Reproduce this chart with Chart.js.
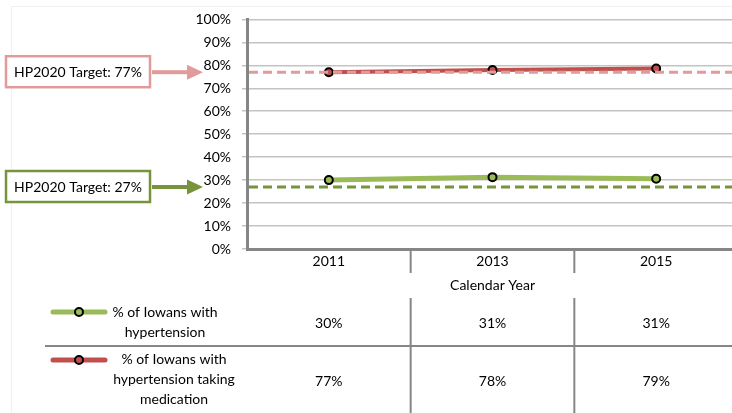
<!DOCTYPE html>
<html>
<head>
<meta charset="utf-8">
<script src="https://cdn.jsdelivr.net/npm/chart.js@4"></script>
<style>
  html, body { margin: 0; padding: 0; background: #fff; }
  #wrap { width: 732px; height: 413px; overflow: hidden; position: relative; }
  canvas { display: block; }
</style>
</head>
<body>
<div id="wrap"><canvas id="bpChart" width="744" height="413"></canvas></div>
<script>
// Data
const years = ['2011', '2013', '2015'];
const hypertension = [30, 31.3, 30.6];
const onMedication = [77, 78, 78.6];
const targetHypertension = 27;
const targetMedication = 77;
const seriesNames = [
    ['% of Iowans with', 'hypertension'],
    ['% of Iowans with', 'hypertension taking', 'medication']
];
const xAxisTitle = 'Calendar Year';

const GREEN = '#9BBB59';
const GREEN_DARK = '#77933C';
const RED = '#C0504D';
const PINK = '#E19B9A';
const AXIS = '#868686';
const TEXT = '#000000';
const FONT = 'Lato, "Open Sans", sans-serif';

function pct(v) { return Math.round(v) + '%'; }

// Target lines, callout boxes and the data table under the chart
const overlayPlugin = {
    id: 'overlay',
    beforeDraw(chart) {
        const ctx = chart.ctx;
        ctx.save();
        ctx.strokeStyle = '#f1f1f1';
        ctx.lineWidth = 1;
        ctx.strokeRect(11.5, 6.5, 760, 420);
        ctx.restore();
    },
    afterDatasetsDraw(chart) {
        const ctx = chart.ctx;
        const area = chart.chartArea;
        const y = chart.scales.y;
        ctx.save();
        ctx.lineWidth = 3;
        ctx.setLineDash([9, 5]);
        [[targetMedication, PINK], [targetHypertension, GREEN_DARK]].forEach(([t, c]) => {
            const py = y.getPixelForValue(t);
            ctx.strokeStyle = c;
            ctx.beginPath();
            ctx.moveTo(area.left + 2, py);
            ctx.lineTo(chart.width, py);
            ctx.stroke();
        });
        ctx.restore();
    },
    afterDraw(chart) {
        const ctx = chart.ctx;
        const area = chart.chartArea;
        const x = chart.scales.x;
        const y = chart.scales.y;
        ctx.save();

        // callouts
        [[targetMedication, PINK], [targetHypertension, GREEN_DARK]].forEach(([t, c]) => {
            const py = y.getPixelForValue(t);
            ctx.strokeStyle = c;
            ctx.lineWidth = 2.5;
            ctx.fillStyle = '#fff';
            ctx.fillRect(6, py - 16, 144, 31);
            ctx.strokeRect(6, py - 16, 144, 31);
            ctx.fillStyle = TEXT;
            ctx.font = '14px ' + FONT;
            ctx.textAlign = 'center';
            ctx.textBaseline = 'middle';
            ctx.fillText('HP2020 Target: ' + t + '%', 78, py);
            ctx.fillStyle = c;
            ctx.fillRect(152, py - 2, 36, 4);
            ctx.beginPath();
            ctx.moveTo(187, py - 7.5);
            ctx.lineTo(203, py);
            ctx.lineTo(187, py + 7.5);
            ctx.closePath();
            ctx.fill();
        });

        // category boundaries
        const bounds = [];
        for (let i = 0; i < years.length - 1; i++) {
            bounds.push((x.getPixelForTick(i) + x.getPixelForTick(i + 1)) / 2);
        }
        bounds.push(area.right);

        ctx.strokeStyle = AXIS;
        ctx.lineWidth = 2;
        bounds.forEach(bx => {
            ctx.beginPath();
            ctx.moveTo(bx, area.bottom);
            ctx.lineTo(bx, 273);
            ctx.moveTo(bx, 298);
            ctx.lineTo(bx, 413);
            ctx.stroke();
        });
        ctx.beginPath();
        ctx.moveTo(45, 346);
        ctx.lineTo(chart.width, 346);
        ctx.stroke();

        // table rows
        const rows = [
            { values: hypertension, color: GREEN, name: seriesNames[0], keyY: 312, textX: 165, textY: 312, valY: 323 },
            { values: onMedication, color: RED, name: seriesNames[1], keyY: 360, textX: 174, textY: 359.5, valY: 381 }
        ];
        rows.forEach(r => {
            ctx.strokeStyle = r.color;
            ctx.lineWidth = 5;
            ctx.lineCap = 'round';
            ctx.beginPath();
            ctx.moveTo(53, r.keyY);
            ctx.lineTo(105, r.keyY);
            ctx.stroke();
            ctx.lineCap = 'butt';
            ctx.beginPath();
            ctx.arc(79, r.keyY, 4, 0, Math.PI * 2);
            ctx.fillStyle = r.color;
            ctx.fill();
            ctx.strokeStyle = '#000';
            ctx.lineWidth = 2;
            ctx.stroke();

            ctx.fillStyle = TEXT;
            ctx.font = '14px ' + FONT;
            ctx.textAlign = 'center';
            ctx.textBaseline = 'middle';
            r.name.forEach((line, i) => ctx.fillText(line, r.textX, r.textY + i * 20));
            r.values.forEach((v, i) => ctx.fillText(pct(v), x.getPixelForTick(i), r.valY));
        });
        ctx.restore();
    }
};

function renderChart() {
    const ctx = document.getElementById('bpChart').getContext('2d');
    const point = (c) => ({
        borderColor: c,
        pointBackgroundColor: c,
        pointBorderColor: '#000',
        pointBorderWidth: 2,
        pointRadius: 4,
        tension: 0,
        fill: false
    });
    new Chart(ctx, {
        type: 'line',
        data: {
            labels: years,
            datasets: [
                Object.assign({ label: seriesNames[0].join(' '), data: hypertension, borderWidth: 5 }, point(GREEN)),
                Object.assign({ label: seriesNames[1].join(' '), data: onMedication, borderWidth: 4 }, point(RED))
            ]
        },
        options: {
            responsive: false,
            animation: false,
            layout: { padding: { top: 13, right: 2, bottom: 119, left: 0 } },
            plugins: { legend: { display: false }, tooltip: { enabled: false }, title: { display: false } },
            scales: {
                x: {
                    offset: true,
                    grid: { display: false, drawTicks: false },
                    border: { display: true, color: AXIS, width: 3 },
                    ticks: { color: TEXT, font: { family: FONT, size: 14 }, padding: 4 },
                    title: { display: true, text: xAxisTitle, color: TEXT, font: { family: FONT, size: 14 }, padding: 0 },
                    afterFit(scale) { scale.height = 45; }
                },
                y: {
                    min: 0,
                    max: 100,
                    ticks: { stepSize: 10, color: TEXT, font: { family: FONT, size: 14 }, padding: 11, callback: v => v + '%' },
                    grid: { color: '#c4c4c4', lineWidth: 1.5, tickLength: 5 },
                    border: { display: true, color: AXIS, width: 3 },
                    afterFit(scale) { scale.width = 247; }
                }
            }
        },
        plugins: [overlayPlugin]
    });
}

window.onload = renderChart;
</script>
</body>
</html>
